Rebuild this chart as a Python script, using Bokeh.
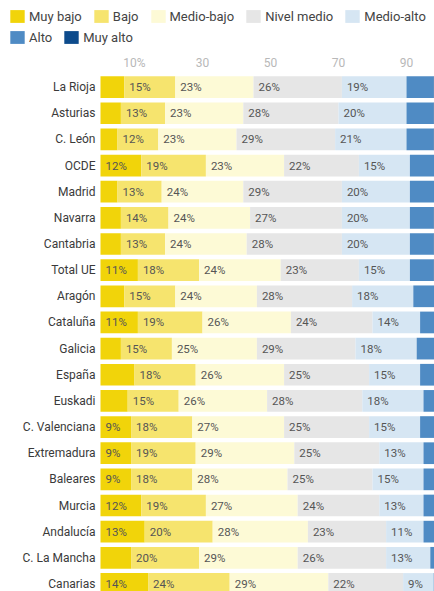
from bokeh.plotting import figure
from bokeh.models import Range1d, ColumnDataSource, Legend, LegendItem
from bokeh.embed import file_html
from bokeh.resources import INLINE
from bokeh.core.properties import value

# ---------------- data ----------------
regions = ["La Rioja", "Asturias", "C. León", "OCDE", "Madrid", "Navarra", "Cantabria",
           "Total UE", "Aragón", "Cataluña", "Galicia", "España", "Euskadi",
           "C. Valenciana", "Extremadura", "Baleares", "Murcia", "Andalucía",
           "C. La Mancha", "Canarias"]
levels = ["Muy bajo", "Bajo", "Medio-bajo", "Nivel medio", "Medio-alto", "Alto", "Muy alto"]

muy_bajo    = [7, 6, 5, 12, 5, 6, 6, 11, 7, 11, 6, 10, 8, 9, 9, 9, 12, 13, 9, 14]
bajo        = [15, 13, 12, 19, 13, 14, 13, 18, 15, 19, 15, 18, 15, 18, 19, 18, 19, 20, 20, 24]
medio_bajo  = [23, 23, 23, 23, 24, 24, 24, 24, 24, 26, 25, 26, 26, 27, 29, 28, 27, 28, 29, 29]
nivel_medio = [26, 28, 29, 22, 29, 27, 28, 23, 28, 24, 29, 25, 28, 25, 25, 25, 24, 23, 26, 22]
medio_alto  = [19, 20, 21, 15, 20, 20, 20, 15, 18, 14, 18, 15, 18, 15, 13, 15, 13, 11, 13, 9]
alto        = [8, 8, 8, 8, 8, 7, 7, 7, 7, 5, 6, 5, 4, 5, 4, 4, 4, 4, 3, 2]
muy_alto    = [2, 2, 2, 1, 1, 2, 2, 2, 1, 1, 1, 1, 1, 1, 1, 1, 1, 1, 0, 0]

# which "Muy bajo" values carry a printed label in the original
muy_bajo_labeled = [False, False, False, True, False, False, False, True, False, True,
                    False, False, False, True, True, True, True, True, False, True]

tick_values = [10, 30, 50, 70, 90]
tick_labels = ["10%", "30", "50", "70", "90"]

# ---------------- style / layout ----------------
colors = ["#f1d40a", "#f6e46e", "#fdfad6", "#e6e6e6", "#d6e6f3", "#4f8bc4", "#0d4b8c"]
FONT = value("Roboto")

W, H = 434, 591
ZERO_X = 100          # pixel where 0 % sits
PX_PER_UNIT = 3.4
ROW0 = 86.6           # pixel centre of the first row
PITCH = 26.15         # pixels between rows
TICK_Y_PX = 62        # pixel centre of the tick labels

series = [muy_bajo, bajo, medio_bajo, nivel_medio, medio_alto, alto, muy_alto]
n = len(regions)
all_true = [True] * n
all_false = [False] * n
label_shown = [muy_bajo_labeled, all_true, all_true, all_true, all_true, all_false, all_false]

x0 = -ZERO_X / PX_PER_UNIT
x1 = (W - ZERO_X) / PX_PER_UNIT
y_top = -ROW0 / PITCH
y_bot = y_top + H / PITCH

p = figure(width=W, height=H, output_backend="svg", toolbar_location=None,
           x_range=Range1d(x0, x1), y_range=Range1d(y_bot, y_top),
           x_axis_location=None, y_axis_location=None, min_border=0)
p.outline_line_color = None
p.xgrid.visible = False
p.ygrid.visible = False

rows = list(range(n))
left = [0] * n
bar_renderers = []
for k, vals in enumerate(series):
    right = [l + v for l, v in zip(left, vals)]
    src = ColumnDataSource(dict(y=rows, left=left, right=right))
    r = p.hbar(y="y", left="left", right="right", height=0.83, source=src,
               fill_color=colors[k], line_color=None)
    bar_renderers.append(r)
    tx, ty, tt = [], [], []
    for i in range(n):
        if label_shown[k][i]:
            tx.append(left[i])
            ty.append(rows[i])
            tt.append(f"{vals[i]}%")
    if tx:
        p.text(x=tx, y=ty, text=tt, x_offset=5, text_align="left", text_baseline="middle",
               text_font=FONT, text_font_size="11.5px", text_color="#555555")
    left = right

# category labels (left of the 0 line)
p.text(x=[0] * n, y=rows, text=regions, x_offset=-5, text_align="right",
       text_baseline="middle", text_font=FONT, text_font_size="12px", text_color="#3a3a3a")

# percentage scale labels (top)
tick_y = (TICK_Y_PX - ROW0) / PITCH
p.text(x=tick_values, y=[tick_y] * len(tick_values), text=tick_labels, text_align="center",
       text_baseline="middle", text_font=FONT, text_font_size="12px", text_color="#b8b8b8")


# ---------------- legend (two rows) ----------------
def make_legend(idx, centre_px):
    bottom_px = centre_px + 8
    leg = Legend(items=[LegendItem(label=levels[i], renderers=[bar_renderers[i]]) for i in idx],
                 orientation="horizontal", location=(8, H - bottom_px),
                 padding=0, margin=0, spacing=10, label_standoff=3,
                 glyph_width=18, glyph_height=16, label_height=16,
                 border_line_color=None, background_fill_alpha=0,
                 label_text_font="Roboto", label_text_font_size="13px",
                 label_text_color="#444444")
    p.add_layout(leg)


make_legend([0, 1, 2, 3, 4], 16)
make_legend([5, 6], 37)

open("out.html", "w").write(file_html(p, INLINE))
